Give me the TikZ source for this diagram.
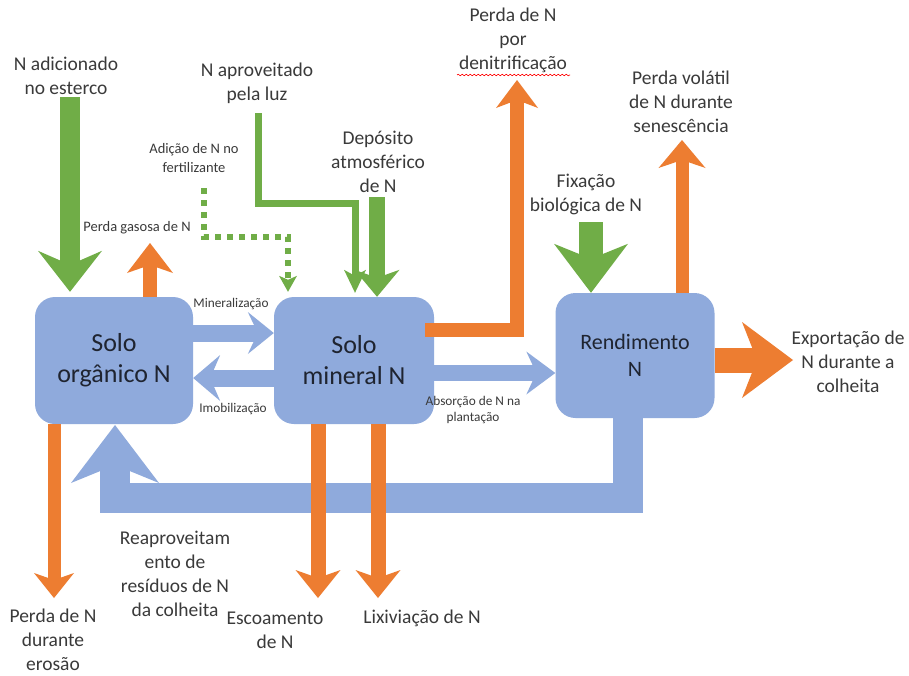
\documentclass[tikz,border=0pt]{standalone}
\usepackage{fontspec}
\setmainfont{Carlito}
\usetikzlibrary{arrows.meta,decorations.pathmorphing}

\definecolor{cBlue}{HTML}{8FAADC}
\definecolor{cOrange}{HTML}{ED7D31}
\definecolor{cGreen}{HTML}{70AD47}
\definecolor{cText}{HTML}{3A3A3A}
\definecolor{cBoxText}{HTML}{1F2430}

\tikzset{
  pool/.style={fill=cBlue, rounded corners=20pt, minimum width=158pt,
    minimum height=127pt, align=center, text=cBoxText, inner sep=0pt},
  lbl/.style={align=center, text=cText, font=\fontsize{19.5}{24}\selectfont, inner sep=0pt},
  smalllbl/.style={align=center, text=cText, font=\fontsize{13.3}{16}\selectfont, inner sep=0pt},
  flow/.style={line join=miter, line cap=butt},
  blockhead/.style n args={3}{-{Stealth[length=#1pt,width=#2pt,inset=#3pt,line width=0pt]}},
}

\begin{document}
\begin{tikzpicture}[x=1pt, y=-1pt]
\fill[white] (0,0) rectangle (909,675);
\useasboundingbox (0,0) rectangle (909,675);

% nitrogen pools
\coordinate (orgc) at (114,360.5);
\coordinate (minc) at (354,360.5);
\coordinate (renc) at (635,355.5);

% recycling of crop residues (drawn below the pools)
\draw[flow, cBlue, line width=30pt, blockhead={58}{88}{18}]
  (628,380) -- (628,498) -- (115,498) -- (115,425);

\node[pool, font=\fontsize{26}{31}\selectfont] (org) at (orgc) {Solo\\orgânico N};
\node[pool, minimum width=160pt, font=\fontsize{26}{31}\selectfont] (min) at (minc) {Solo\\mineral N};
\node[pool, minimum width=159pt, minimum height=125pt, font=\fontsize{22}{27}\selectfont] (ren) at (renc) {Rendimento\\N};

% labels
\node[lbl] (lEst) at (66,76) {N adicionado\\no esterco};
\node[lbl] (lLuz) at (257,83) {N aproveitado\\pela luz};
\node[lbl] (lDep) at (378,162) {Depósito\\atmosférico\\de N};
\node[smalllbl, font=\fontsize{14.5}{19}\selectfont] (lFert) at (194,158) {Adição de N no\\fertilizante};
\node[smalllbl, font=\fontsize{14.5}{16}\selectfont] (lGas) at (137,228) {Perda gasosa de N};
\node[smalllbl] (lMin) at (231,304) {Mineralização};
\node[smalllbl] (lImo) at (233,409) {Imobilização};
\node[smalllbl] (lAbs) at (473,410) {Absorção de N na\\plantação};
\node[lbl] (lDen) at (513,40) {Perda de N\\por\\denitrificação};
\node[lbl] (lVol) at (681,102) {Perda volátil\\de N durante\\senescência};
\node[lbl] (lFix) at (586,194) {Fixação\\biológica de N};
\node[lbl] (lExp) at (848,362) {Exportação de\\N durante a\\colheita};
\node[lbl] (lEro) at (53,640) {Perda de N\\durante\\erosão};
\node[lbl] (lRea) at (175,574) {Reaproveitam\\ento de\\resíduos de N\\da colheita};
\node[lbl] (lEsc) at (275,630) {Escoamento\\de N};
\node[lbl] (lLix) at (422,618) {Lixiviação de N};

% spell-check mark under the last word
\draw[red, line width=0.6pt, decorate,
  decoration={snake, amplitude=0.8pt, segment length=4pt}] (457,75) -- (570,75);

% inputs
\draw[flow, cGreen, line width=20pt, blockhead={41}{64}{14}, shorten >=5pt]
  (70,97) -- (70,0 |- org.north);
\draw[flow, cGreen, line width=6pt, dash pattern=on 6pt off 6pt, blockhead={16}{18}{4}, shorten >=5pt]
  (204,188) -- (204,237) -- (288,237) -- (288,0 |- min.north);
\draw[flow, cGreen, line width=7pt, blockhead={23}{22}{6}, shorten >=4pt]
  (258,113) -- (258,203) -- (355,203) -- (355,0 |- min.north);
\draw[flow, cGreen, line width=16pt, blockhead={27}{45}{8}]
  (377,197) -- (377,0 |- min.north);
\draw[flow, cGreen, line width=24pt, blockhead={49}{74}{15}]
  (591,222) -- (591,0 |- ren.north);

% transfers between pools
\draw[flow, cBlue, line width=17pt, blockhead={26}{42}{10}]
  (org.east |- 0,333) -- (min.west |- 0,333);
\draw[flow, cBlue, line width=17pt, blockhead={27}{46}{10}]
  (min.west |- 0,378) -- (org.east |- 0,378);
\draw[flow, cBlue, line width=16pt, blockhead={29}{43}{10}]
  (min.east |- 0,373) -- (ren.west |- 0,373);

% losses
\draw[flow, cOrange, line width=14pt, blockhead={30}{46}{8}]
  (150,0 |- org.north) -- (150,243);
\draw[flow, cOrange, line width=14pt, blockhead={28}{42}{8}]
  (425,330) -- (517,330) -- (517,80);
\draw[flow, cOrange, line width=13pt, blockhead={28}{47}{8}]
  (682,0 |- ren.north) -- (682,140);
\draw[flow, cOrange, line width=25pt, blockhead={51}{76}{15}]
  (ren.east |- 0,360) -- (793,360);
\draw[flow, cOrange, line width=13pt, blockhead={25}{40}{7}]
  (54,0 |- org.south) -- (54,598);
\draw[flow, cOrange, line width=15pt, blockhead={28}{45}{8}]
  (318,0 |- min.south) -- (318,598);
\draw[flow, cOrange, line width=15pt, blockhead={28}{45}{8}]
  (378,0 |- min.south) -- (378,598);
\end{tikzpicture}
\end{document}
